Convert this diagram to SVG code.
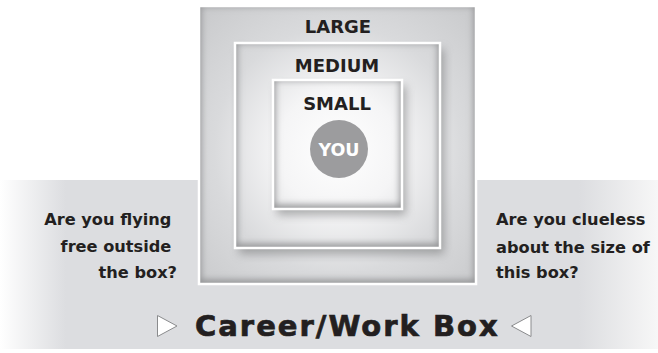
<svg xmlns="http://www.w3.org/2000/svg" width="658" height="353" viewBox="0 0 658 353">
  <defs>
    <linearGradient id="band" x1="0" y1="0" x2="658" y2="0" gradientUnits="userSpaceOnUse">
      <stop offset="0" stop-color="#ffffff"/>
      <stop offset="0.1" stop-color="#dcdde0"/>
      <stop offset="0.88" stop-color="#dcdde0"/>
      <stop offset="1" stop-color="#f7f7f7"/>
    </linearGradient>
    <radialGradient id="glow" cx="338" cy="150" r="200" gradientUnits="userSpaceOnUse">
      <stop offset="0" stop-color="#ffffff"/>
      <stop offset="0.3" stop-color="#f5f5f6"/>
      <stop offset="0.62" stop-color="#d9dadc"/>
      <stop offset="1" stop-color="#c8c9cb"/>
    </radialGradient>
    <filter id="drop" x="-20%" y="-20%" width="140%" height="140%">
      <feGaussianBlur stdDeviation="5"/>
    </filter>
    <filter id="soft" x="-20%" y="-20%" width="140%" height="140%">
      <feGaussianBlur stdDeviation="3.5"/>
    </filter>
    <clipPath id="clipL"><rect x="199" y="6" width="277" height="278"/></clipPath>
    <clipPath id="clipM"><rect x="235" y="43" width="205" height="205"/></clipPath>
    <clipPath id="clipS"><rect x="273" y="80" width="129" height="129"/></clipPath>
    <style>
      .lbl { font-family: "DejaVu Sans", "Liberation Sans", sans-serif; font-weight: 700; font-size: 18px; fill: #231f20; text-anchor: middle; }
      .q { font-family: "DejaVu Sans", "Liberation Sans", sans-serif; font-weight: 700; font-size: 16.2px; fill: #231f20; }
      .frame { fill: none; stroke: #ffffff; stroke-width: 2.5; }
      .inner { fill: none; stroke: #8f9092; stroke-width: 8; }
      .tri { fill: #ffffff; stroke: #8a8b8d; stroke-width: 1; }
      .heading { font-family: "DejaVu Sans", "Liberation Sans", sans-serif; font-weight: 700; font-size: 29px; fill: #231f20; stroke: #231f20; stroke-width: 0.7px; letter-spacing: 2px; }
    </style>
  </defs>

  <!-- page background and lower band -->
  <rect x="0" y="0" width="658" height="353" fill="#ffffff"/>
  <rect x="0" y="180" width="658" height="169" fill="url(#band)"/>

  <!-- large box -->
  <g id="box-large">
    <rect x="199" y="6" width="277" height="278" fill="url(#glow)"/>
    <g clip-path="url(#clipL)">
      <rect x="197" y="2" width="281" height="282" class="inner" filter="url(#soft)"/>
    </g>
    <rect x="199" y="6" width="277" height="278" class="frame"/>
    <text x="338" y="33" class="lbl">LARGE</text>
  </g>

  <!-- medium box -->
  <g id="box-medium">
    <rect x="239" y="49" width="205" height="205" fill="#6e6f71" opacity="0.55" filter="url(#drop)"/>
    <rect x="235" y="43" width="205" height="205" fill="url(#glow)"/>
    <g clip-path="url(#clipM)">
      <rect x="233" y="39" width="209" height="209" class="inner" filter="url(#soft)"/>
    </g>
    <rect x="235" y="43" width="205" height="205" class="frame"/>
    <text x="337" y="72" class="lbl">MEDIUM</text>
  </g>

  <!-- small box -->
  <g id="box-small">
    <rect x="277" y="86" width="129" height="129" fill="#6e6f71" opacity="0.55" filter="url(#drop)"/>
    <rect x="273" y="80" width="129" height="129" fill="url(#glow)"/>
    <g clip-path="url(#clipS)">
      <rect x="271" y="76" width="133" height="133" class="inner" filter="url(#soft)"/>
    </g>
    <rect x="273" y="80" width="129" height="129" class="frame"/>
    <text x="337" y="110" class="lbl">SMALL</text>
  </g>

  <!-- you marker -->
  <g id="you">
    <circle cx="339" cy="149" r="29" fill="#9c9c9e"/>
    <text x="339" y="155.5" class="lbl" style="fill:#ffffff;font-size:17.5px">YOU</text>
  </g>

  <!-- side questions -->
  <g id="question-left">
    <text class="q" text-anchor="end">
      <tspan x="177" y="225">Are you flying</tspan>
      <tspan x="177" y="252">free outside</tspan>
      <tspan x="177" y="278">the box?</tspan>
    </text>
  </g>
  <g id="question-right">
    <text class="q">
      <tspan x="496" y="225">Are you clueless</tspan>
      <tspan x="496" y="253">about the size of</tspan>
      <tspan x="496" y="278">this box?</tspan>
    </text>
  </g>

  <!-- title with pointers -->
  <g id="title">
    <polygon class="tri" points="157.5,315.5 177,326 157.5,336.5"/>
    <text x="195" y="335.5" class="heading">Career/Work Box</text>
    <polygon class="tri" points="531,315.5 511.5,326 531,336.5"/>
  </g>
</svg>
